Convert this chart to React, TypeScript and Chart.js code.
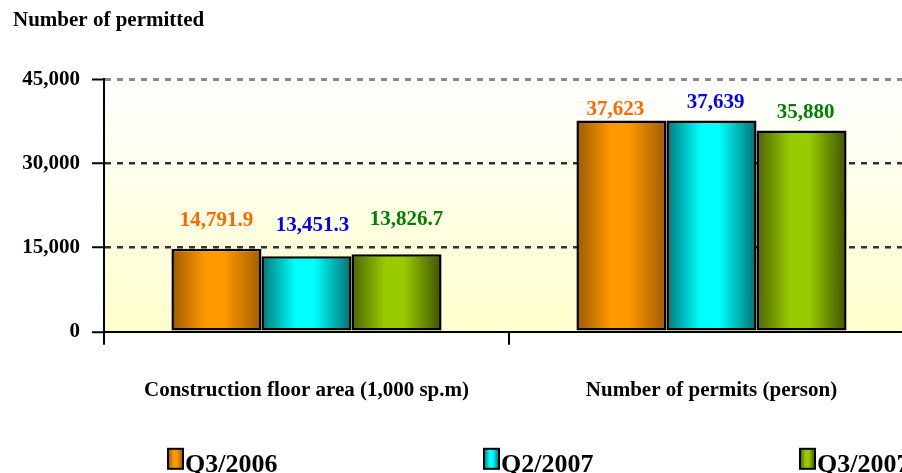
import React, { useEffect, useRef } from 'react';
import { Chart, registerables } from 'chart.js';

Chart.register(...registerables);

// ---- data ----
const categories = ['Construction floor area (1,000 sp.m)', 'Number of permits (person)'];
const seriesNames = ['Q3/2006', 'Q2/2007', 'Q3/2007'];
const q3_2006 = [14791.9, 37623];
const q2_2007 = [13451.3, 37639];
const q3_2007 = [13826.7, 35880];
const yTicks = [0, 15000, 30000, 45000];
const yTitle = 'Number of permitted';

// ---- styles ----
const FONT = "'Liberation Serif', 'Times New Roman', serif";
const barColors = [
  { dark: '#9c5a00', light: '#ff9900', dark2: '#a05c00' },
  { dark: '#007878', light: '#00ffff', dark2: '#007070' },
  { dark: '#4e6400', light: '#99cc00', dark2: '#3f5200' },
];
const labelColors = ['#ff6600', '#0000ff', '#008000'];
// label placement (px) per series / category: [dy above bar top], [dx from bar centre]
const labelOffsets = [
  [28, 11],
  [31, 18],
  [35, 18],
];
const labelShiftX = [
  [0, -6],
  [6, 4],
  [10, 4],
];

function makeGradient(ctx: CanvasRenderingContext2D, x0: number, x1: number, i: number) {
  const c = barColors[i];
  const g = ctx.createLinearGradient(x0, 0, x1, 0);
  g.addColorStop(0, c.dark);
  g.addColorStop(0.38, c.light);
  g.addColorStop(0.58, c.light);
  g.addColorStop(1, c.dark2);
  return g;
}

function barFill(i: number) {
  return (context: any) => {
    const chart = context.chart;
    const el = context.element || chart.getDatasetMeta(context.datasetIndex).data[context.dataIndex];
    if (!el || typeof el.x !== 'number' || !el.width || isNaN(el.x)) return barColors[i].light;
    return makeGradient(chart.ctx, el.x - el.width / 2, el.x + el.width / 2, i);
  };
}

const bgPlugin = {
  id: 'bgGradient',
  beforeDraw(chart: any) {
    const { ctx, chartArea: a } = chart;
    const g = ctx.createLinearGradient(0, a.top, 0, a.bottom);
    g.addColorStop(0, '#ffffff');
    g.addColorStop(1, '#ffffcc');
    ctx.save();
    ctx.fillStyle = g;
    ctx.fillRect(a.left, a.top, a.right - a.left, a.bottom - a.top);
    ctx.restore();
  },
};

const valueLabelPlugin = {
  id: 'valueLabels',
  afterDatasetsDraw(chart: any) {
    const { ctx } = chart;
    ctx.save();
    ctx.font = `bold 21px ${FONT}`;
    ctx.textAlign = 'center';
    ctx.textBaseline = 'middle';
    chart.data.datasets.forEach((ds: any, i: number) => {
      const meta = chart.getDatasetMeta(i);
      meta.data.forEach((el: any, j: number) => {
        const v = ds.data[j];
        ctx.fillStyle = labelColors[i];
        ctx.fillText(
          Number(v).toLocaleString('en-US'),
          el.x + labelShiftX[i][j],
          el.y - labelOffsets[i][j]
        );
      });
    });
    ctx.restore();
  },
};

const legendPlugin = {
  id: 'customLegend',
  afterDraw(chart: any) {
    const { ctx, chartArea: a } = chart;
    ctx.save();
    ctx.font = `bold 26px ${FONT}`;
    ctx.textAlign = 'left';
    ctx.textBaseline = 'alphabetic';
    chart.data.datasets.forEach((ds: any, i: number) => {
      const bx = a.left + 64 + i * 316;
      const by = a.bottom + 117;
      ctx.fillStyle = makeGradient(ctx, bx, bx + 15, i);
      ctx.fillRect(bx, by, 15, 20);
      ctx.lineWidth = 2;
      ctx.strokeStyle = '#000';
      ctx.strokeRect(bx, by, 15, 20);
      ctx.fillStyle = '#000';
      ctx.fillText(ds.label, bx + 17, by + 23);
    });
    ctx.restore();
  },
};

export default function App() {
  const ref = useRef<HTMLCanvasElement>(null);
  useEffect(() => {
    if (!ref.current) return;
    const series = [q3_2006, q2_2007, q3_2007];
    const chart = new Chart(ref.current, {
      type: 'bar',
      data: {
        labels: categories,
        datasets: series.map((d, i) => ({
          label: seriesNames[i],
          data: d,
          backgroundColor: barFill(i),
          borderColor: '#000',
          borderWidth: 2.5,
          borderSkipped: false,
          barPercentage: 1,
          categoryPercentage: 0.667,
        })),
      },
      options: {
        responsive: false,
        animation: false,
        devicePixelRatio: 1,
        layout: { padding: { left: 13, right: 6, top: 0, bottom: 44 } },
        plugins: {
          legend: { display: false },
          tooltip: { enabled: false },
          title: {
            display: true,
            text: yTitle,
            align: 'start',
            color: '#000',
            font: { family: FONT, size: 21, weight: 'bold' },
            padding: { top: 8, bottom: 46 },
          },
        },
        scales: {
          x: {
            type: 'category',
            offset: true,
            grid: {
              offset: true,
              drawOnChartArea: false,
              drawTicks: true,
              tickLength: 13,
              color: '#000',
              lineWidth: 2,
            },
            border: { display: true, color: '#000', width: 2 },
            ticks: {
              color: '#000',
              font: { family: FONT, size: 21, weight: 'bold' },
              padding: 33,
              maxRotation: 0,
              autoSkip: false,
            },
          },
          y: {
            min: 0,
            max: 45000,
            afterBuildTicks: (scale: any) => {
              scale.ticks = yTicks.map((v) => ({ value: v }));
            },
            afterFit: (scale: any) => {
              scale.width = 91;
            },
            grid: {
              color: (c: any) =>
                c.tick && c.tick.value === 0
                  ? 'rgba(0,0,0,0)'
                  : c.tick && c.tick.value === 45000
                  ? '#8a8a8a'
                  : '#333333',
              lineWidth: (c: any) => (c.tick && c.tick.value === 45000 ? 3 : 2.5),
              tickColor: '#000',
              tickWidth: 2,
              tickLength: 12,
              drawTicks: true,
            },
            border: { display: true, color: '#000', width: 2, dash: [6, 6] },
            ticks: {
              color: '#000',
              font: { family: FONT, size: 21, weight: 'bold' },
              padding: 12,
              callback: (v: any) => Number(v).toLocaleString('en-US'),
            },
          },
        },
      } as any,
      plugins: [bgPlugin, valueLabelPlugin, legendPlugin],
    });
    chart.update();
    return () => chart.destroy();
  }, []);

  return (
    <div
      style={{
        position: 'fixed',
        left: 0,
        top: 0,
        width: 902,
        height: 473,
        overflow: 'hidden',
        background: '#fff',
      }}
    >
      <canvas ref={ref} width={920} height={480} style={{ width: 920, height: 480, display: 'block' }} />
    </div>
  );
}
